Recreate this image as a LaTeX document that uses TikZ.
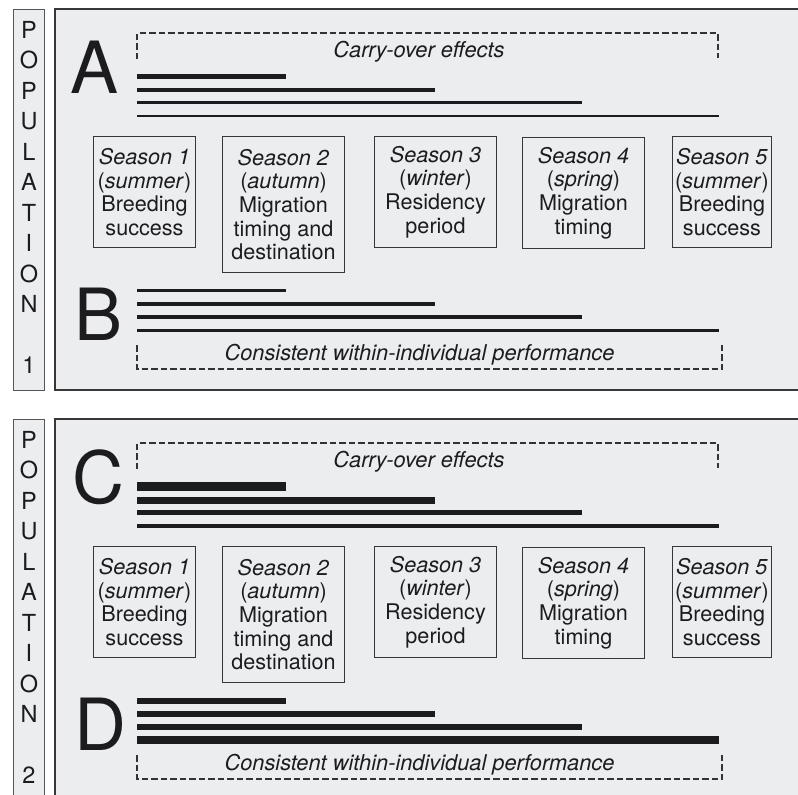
\documentclass[tikz,border=0pt]{standalone}
\usepackage{fontspec}
\setmainfont{TeX Gyre Heros}
\definecolor{panelgrey}{RGB}{236,237,239}
\definecolor{ink}{RGB}{28,28,30}
\definecolor{framecol}{RGB}{55,55,58}
\definecolor{labelframe}{RGB}{85,85,88}
\tikzset{
  seasonbox/.style={draw=framecol, line width=1pt, inner sep=0pt, align=center,
    anchor=north west, font=\fontsize{21.6}{23.6}\selectfont, text=ink},
  bigletter/.style={font=\fontsize{72}{72}\selectfont, inner sep=0pt, anchor=base, text=ink},
  dashbracket/.style={draw=ink!90, line width=1.8pt, dash pattern=on 6.5pt off 3pt},
  bar/.style={draw=ink, line cap=butt},
  captiontext/.style={font=\fontsize{21.8}{24}\selectfont\itshape, inner sep=0pt, anchor=base, text=ink},
  poptext/.style={font=\fontsize{23.5}{23.5}\selectfont, inner sep=0pt, text=ink},
}
\newcommand\panelbase[1]{%
  \draw[draw=labelframe, line width=1pt, fill=panelgrey] (13.5,9) rectangle (44.5,390);
  \fill[panelgrey] (54.5,9) rectangle (810,390);
  \draw[framecol, line width=2pt] (810,9) -- (54.5,9) -- (54.5,390) -- (810,390);
  \foreach \ch/\k in {P/0,O/1,P/2,U/3,L/4,A/5,T/6,I/7,O/8,N/9,#1/11}
    \node[poptext] (pop\k) at (29,{29.5+30.5*\k}) {\ch};
  \node[seasonbox, minimum width=102, minimum height=111] (s1) at (93,136)
    {\textit{Season 1}\\(\textit{summer})\\Breeding\\success};
  \node[seasonbox, minimum width=122, minimum height=136] (s2) at (222,136)
    {\textit{Season 2}\\(\textit{autumn})\\Migration\\timing and\\destination};
  \node[seasonbox, minimum width=122, minimum height=111] (s3) at (374,136)
    {\textit{Season 3}\\(\textit{winter})\\Residency\\period};
  \node[seasonbox, minimum width=122, minimum height=111] (s4) at (522,137)
    {\textit{Season 4}\\(\textit{spring})\\Migration\\timing};
  \node[seasonbox, minimum width=99, minimum height=111] (s5) at (672,136)
    {\textit{Season 5}\\(\textit{summer})\\Breeding\\success};
  \coordinate (ul) at (137,59);  \coordinate (ult) at (137,33);
  \coordinate (urt) at (718,33); \coordinate (ur) at (718,58);
  \draw[dashbracket] (ul) -- (ult) -- (urt) -- (ur);
  \node[captiontext] (co) at (419,57) {Carry-over effects};
  \coordinate (ll) at (137,345); \coordinate (llb) at (137,369);
  \coordinate (lrb) at (722,369); \coordinate (lr) at (722,345);
  \draw[dashbracket] (ll) -- (llb) -- (lrb) -- (lr);
  \node[captiontext] (cw) at (419.5,360) {Consistent within-individual performance};
}
\begin{document}
\begin{tikzpicture}[x=1pt,y=-1pt]
\useasboundingbox (0,0) rectangle (798,795);
\clip (0,0) rectangle (798,795);
\fill[white] (0,0) rectangle (798,795);
% ---------- Population 1 ----------
\begin{scope}[name prefix=p1-]
  \panelbase{1}
  \node[bigletter] (A) at (95,93) {A};
  \draw[bar, line width=5pt]   (137,76.5) -- (286,76.5);
  \draw[bar, line width=3.5pt] (137,89.8) -- (435,89.8);
  \draw[bar, line width=2.7pt] (137,102.8) -- (582,102.8);
  \draw[bar, line width=1.8pt] (137,116.3) -- (719,116.3);
  \node[bigletter] (B) at (99,340) {B};
  \draw[bar, line width=2.8pt] (137,290.8) -- (286,290.8);
  \draw[bar, line width=3.2pt] (137,304) -- (435,304);
  \draw[bar, line width=3.4pt] (137,317) -- (582,317);
  \draw[bar, line width=3.7pt] (137,330.5) -- (719,330.5);
\end{scope}
% ---------- Population 2 ----------
\begin{scope}[shift={(0,410)}, name prefix=p2-]
  \panelbase{2}
  \node[bigletter] (C) at (98,93) {C};
  \draw[bar, line width=9.5pt] (137,76.3) -- (286,76.3);
  \draw[bar, line width=7pt]   (137,90) -- (435,90);
  \draw[bar, line width=5.2pt] (137,102.7) -- (582,102.7);
  \draw[bar, line width=4.2pt] (137,116) -- (719,116);
  \node[bigletter] (D) at (100,340) {D};
  \draw[bar, line width=6.2pt] (137,290.8) -- (286,290.8);
  \draw[bar, line width=6.7pt] (137,304) -- (435,304);
  \draw[bar, line width=6.7pt] (137,317) -- (582,317);
  \draw[bar, line width=7.2pt] (137,330) -- (719,330);
\end{scope}
\end{tikzpicture}
\end{document}
